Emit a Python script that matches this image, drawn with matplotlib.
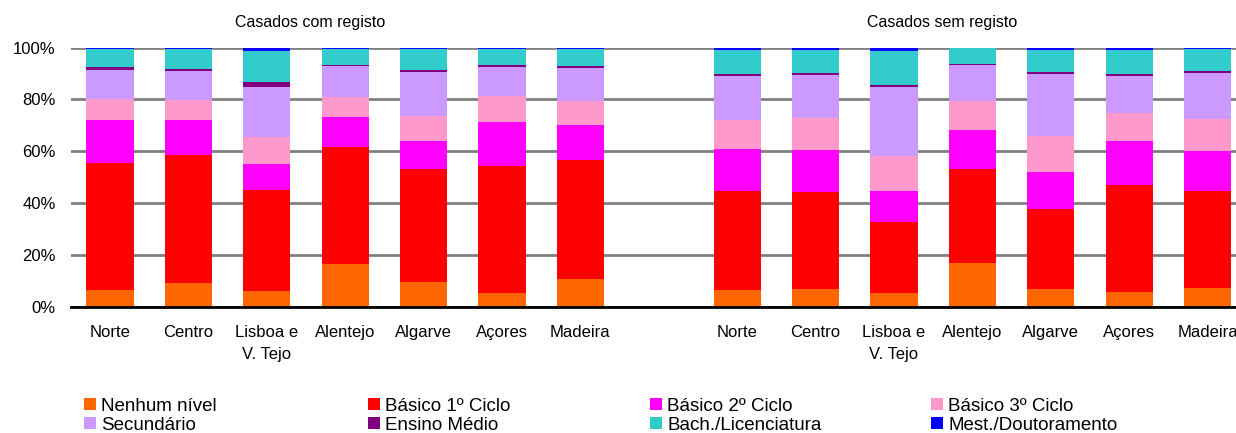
import matplotlib
matplotlib.use("Agg")
import matplotlib.pyplot as plt
from matplotlib.patches import Patch
import numpy as np

plt.rcParams['font.family'] = ['Liberation Sans', 'DejaVu Sans']

regions = ["Norte", "Centro", "Lisboa e\nV. Tejo", "Alentejo", "Algarve", "Açores", "Madeira"]
group_titles = ["Casados com registo", "Casados sem registo"]

levels = ["Nenhum nível", "Básico 1º Ciclo", "Básico 2º Ciclo", "Básico 3º Ciclo",
          "Secundário", "Ensino Médio", "Bach./Licenciatura", "Mest./Doutoramento"]
colors = ["#FF6600", "#FF0000", "#FF00FF", "#FF99CC",
          "#CC99FF", "#800080", "#33CCCC", "#0000FF"]

# Shares (%) by education level, one row per region
com_registo = [
    [6.4, 49.0, 16.6, 8.1, 11.2, 1.2, 6.9, 0.6],
    [9.1, 49.4, 13.5, 7.7, 11.3, 0.7, 7.7, 0.6],
    [6.1, 38.9, 10.1, 10.4, 19.3, 1.9, 11.9, 1.4],
    [16.5, 45.1, 11.6, 7.7, 12.0, 0.4, 6.1, 0.6],
    [9.5, 43.6, 10.8, 9.7, 17.0, 0.7, 8.1, 0.6],
    [5.3, 49.0, 17.0, 10.0, 11.2, 0.8, 6.1, 0.6],
    [10.7, 45.9, 13.5, 9.2, 12.8, 0.8, 6.5, 0.6],
]
sem_registo = [
    [6.4, 38.2, 16.2, 11.2, 16.9, 0.9, 9.2, 1.0],
    [6.9, 37.4, 16.2, 12.3, 16.6, 0.8, 8.8, 1.0],
    [5.3, 27.4, 11.9, 13.5, 26.7, 0.8, 13.0, 1.4],
    [16.9, 36.2, 15.1, 11.1, 14.0, 0.3, 6.1, 0.6],
    [6.9, 30.8, 14.3, 13.9, 23.9, 0.8, 8.4, 1.0],
    [5.7, 41.3, 16.9, 10.8, 14.2, 0.9, 9.2, 1.0],
    [7.3, 37.3, 15.5, 12.3, 17.8, 0.7, 8.5, 0.6],
]

W, H = 1236, 433
fig = plt.figure(figsize=(W / 100, H / 100), dpi=100)

slot = 78.4
n_slots = 2 * len(regions) + 1
ax = fig.add_axes([70.8 / W, (H - 306.7) / H, n_slots * slot / W, (306.7 - 47.5) / H])

x_left = np.arange(len(regions))
x_right = np.arange(len(regions)) + len(regions) + 1
x_all = np.concatenate([x_left, x_right])
data = np.array(com_registo + sem_registo)

bottom = np.zeros(len(x_all))
for i, (lvl, c) in enumerate(zip(levels, colors)):
    ax.bar(x_all, data[:, i], bottom=bottom, width=0.6, color=c, linewidth=0, zorder=3)
    bottom += data[:, i]

ax.set_xlim(-0.5, n_slots - 0.5)
ax.set_ylim(0, 100)
ax.set_yticks(np.arange(0, 101, 20))
ax.set_yticklabels([f"{v}%" for v in range(0, 101, 20)])
ax.set_xticks(x_all)
ax.set_xticklabels(regions * 2, linespacing=1.55)
ax.tick_params(axis='y', length=0, pad=11, labelsize=12)
ax.tick_params(axis='x', length=0, pad=13.5, labelsize=12)
for lab in ax.get_xticklabels():
    lab.set_verticalalignment('top')

ax.grid(axis='y', color='#808080', linewidth=2, zorder=0)
ax.set_axisbelow(True)
for s in ['left', 'right', 'top']:
    ax.spines[s].set_visible(False)
ax.spines['bottom'].set_color('black')
ax.spines['bottom'].set_linewidth(2)
ax.spines['bottom'].set_zorder(4)

fig.text(310 / W, 1 - 22 / H, group_titles[0], ha='center', va='center', fontsize=11.5)
fig.text(942 / W, 1 - 22 / H, group_titles[1], ha='center', va='center', fontsize=11.5)

# Legend: four columns of two entries each, filled row by row
col_x = [84, 368, 650, 931]
for c in range(4):
    idx = [c, c + 4]
    handles = [Patch(facecolor=colors[k], edgecolor='none') for k in idx]
    leg = fig.legend(handles, [levels[k] for k in idx], loc='upper left',
                     bbox_to_anchor=(col_x[c] / W, 1 - 398 / H), frameon=False,
                     fontsize=13.5, handlelength=0.62, handleheight=0.62,
                     handletextpad=0.3, labelspacing=0.1, borderpad=0, borderaxespad=0)

fig.savefig("out.png", dpi=100)
